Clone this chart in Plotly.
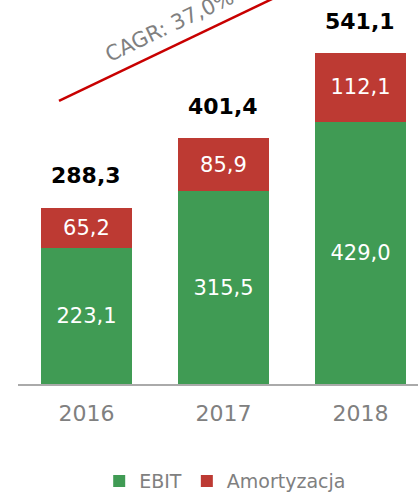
import plotly.graph_objects as go

years = ["2016", "2017", "2018"]
ebit = [223.1, 315.5, 429.0]
amort = [65.2, 85.9, 112.1]
totals = [288.3, 401.4, 541.1]
cagr_label = "CAGR: 37,0%"

GREEN = "rgb(64,155,84)"
RED = "rgb(189,58,51)"
GRAY = "rgb(128,128,128)"
FONT = "DejaVu Sans"

def fmt(v):
    return f"{v:.1f}".replace(".", ",")

fig = go.Figure()
fig.add_trace(go.Bar(x=years, y=ebit, name="EBIT", marker=dict(color=GREEN, line=dict(width=0)),
                     text=[fmt(v) for v in ebit], textposition="inside", insidetextanchor="middle",
                     textfont=dict(color="white", size=21, family=FONT)))
fig.add_trace(go.Bar(x=years, y=amort, name="Amortyzacja", marker=dict(color=RED, line=dict(width=0)),
                     text=[fmt(v) for v in amort], textposition="inside", insidetextanchor="middle",
                     textfont=dict(color="white", size=21, family=FONT)))

for i, t in enumerate(totals):
    fig.add_annotation(x=i, y=t, xref="x", yref="y", text=f"<b>{fmt(t)}</b>", showarrow=False,
                       xanchor="center", yanchor="middle", yshift=32,
                       font=dict(size=22, color="black", family=FONT))

# CAGR line (paper coords so it may run past the plot top)
fig.add_shape(type="line", xref="paper", yref="paper", x0=0.1025, y0=0.737, x1=0.69, y1=1.03,
              line=dict(color="rgb(200,0,0)", width=2.5))
fig.add_annotation(xref="paper", yref="paper", x=0.378, y=0.932, text=cagr_label, showarrow=False,
                   xanchor="center", yanchor="middle",
                   textangle=-25.6, font=dict(size=21, color=GRAY, family=FONT))

fig.update_layout(
    width=418, height=492,
    margin=dict(l=18, r=0, t=0, b=108, autoexpand=False),
    barmode="stack", bargap=0.336,
    plot_bgcolor="white", paper_bgcolor="white",
    font=dict(family=FONT, color=GRAY),
    legend=dict(orientation="h", x=0.518, xanchor="center", y=-0.253, yanchor="middle",
                font=dict(size=19, color=GRAY, family=FONT), traceorder="normal",
                itemwidth=30),
    showlegend=True,
)
fig.update_xaxes(type="category", range=[-0.5, 2.42], showline=True, linecolor="rgb(170,170,170)", linewidth=2,
                 tickfont=dict(size=22, color=GRAY, family=FONT), ticklabelstandoff=9,
                 showgrid=False, fixedrange=True)
fig.update_yaxes(range=[0, 627.8], visible=False, showgrid=False, zeroline=False, fixedrange=True)

fig.write_html("out.html", config={"displayModeBar": False, "staticPlot": True},
               post_script="document.body.style.margin='0';document.body.style.overflow='hidden';")
